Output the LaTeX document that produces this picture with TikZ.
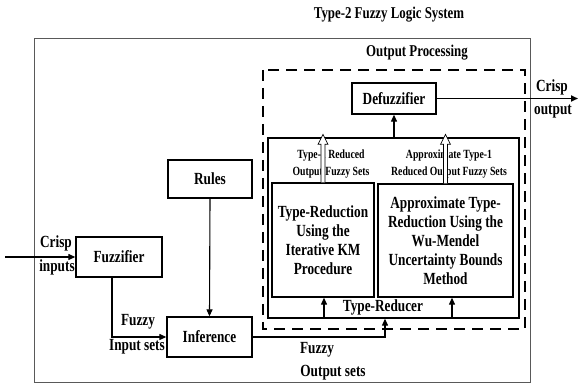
\documentclass[tikz,border=0pt]{standalone}
\usepackage{fontspec}
\setmainfont{Liberation Serif}
\newfontfamily\cf[FakeStretch=0.78]{Liberation Serif}
\usetikzlibrary{arrows.meta,calc}
\begin{document}
\begin{tikzpicture}[x=1pt,y=-1pt,
  box/.style={draw, line width=1.3pt, inner sep=0pt, align=center},
  big/.style={font=\cf\bfseries\fontsize{17}{19}\selectfont},
  lab/.style={font=\cf\bfseries\fontsize{17}{19}\selectfont, inner sep=0pt},
  ttl/.style={font=\cf\bfseries\fontsize{16.5}{19}\selectfont, inner sep=0pt},
  small/.style={font=\cf\bfseries\fontsize{12.5}{17}\selectfont, inner sep=0pt, align=center},
  arr/.style={line width=1.1pt, -{Triangle[length=7pt,width=6pt]}},
  hollow/.style={line width=0.7pt, fill=white},
  dashbox/.style={draw, line width=1.7pt, dash pattern=on 11pt off 7pt},
  outer/.style={draw=black!65, line width=0.6pt}]
\useasboundingbox (0,0) rectangle (579,387);

% outer frame and titles
\draw[outer] (34,38) rectangle (530,382);
\node[ttl] (title) at (389,15) {Type-2 Fuzzy Logic System};
\node[ttl] (optitle) at (417,53) {Output Processing};
\draw[dashbox] (263,70) rectangle (525,329);

% blocks
\node[box, big, minimum width=84pt, minimum height=31pt] (defuzz) at (394,98.5) {Defuzzifier};
\node[box, minimum width=251pt, minimum height=180pt] (tr) at (393.5,228) {};
\node[box, big, minimum width=102pt, minimum height=114pt] (lbox) at (323,240)
  {Type-Reduction\\Using the\\Iterative KM\\Procedure};
\node[box, big, minimum width=135pt, minimum height=113pt] (rbox) at (445.5,240.5)
  {Approximate Type-\\Reduction Using the\\Wu-Mendel\\Uncertainty Bounds\\Method};
\node[box, big, minimum width=84pt, minimum height=38pt] (rules) at (210,179) {Rules};
\node[box, big, minimum width=86pt, minimum height=40pt] (fuzz) at (119,257) {Fuzzifier};
\node[box, big, minimum width=85pt, minimum height=40pt] (inf) at (209.5,337) {Inference};

% labels
\node[lab] (trlab) at (383,307) {Type-Reducer};
\node[small] (l1) at (331,164) {Type-1 Reduced\\Output Fuzzy Sets};
\node[small] (l2) at (449,164) {Approximate Type-1\\Reduced Output Fuzzy Sets};
\node[lab] (cin1) at (56,243) {Crisp};
\node[lab] (cin2) at (57,267) {inputs};
\node[lab] (fin1) at (138,322) {Fuzzy};
\node[lab] (fin2) at (137,347) {Input sets};
\node[lab] (fout1) at (317,350) {Fuzzy};
\node[lab] (fout2) at (333,373) {Output sets};
\node[lab] (cout1) at (552,87) {Crisp};
\node[lab] (cout2) at (553,112) {output};

% connectors
\coordinate (inp) at (5,257);
\coordinate (outp) at (578,98.5);
\draw[arr] (inp) -- (fuzz.west);
\draw[arr] (fuzz.south -| 112,0) |- (inf.west);
\draw[arr] (rules.south) -- (inf.north);
\draw[arr] (inf.east) -| (tr.south -| 385,0);
\draw[arr] (tr.south -| 324,0) -- (lbox.south -| 324,0);
\draw[arr] (tr.south -| 452,0) -- (rbox.south -| 452,0);
\draw[arr] (tr.north -| defuzz.south) -- (defuzz.south);
\draw[arr, line width=1.6pt] (defuzz.east) -- (outp);

% hollow arrows
\draw[hollow] ($(lbox.north)+(-2,0)$) -- ($(lbox.north|-tr.north)+(-2,7)$) -- ++(-3,0)
  -- ($(lbox.north|-tr.north)+(0,-3)$) -- ($(lbox.north|-tr.north)+(5,7)$) -- ++(-3,0)
  -- ($(lbox.north)+(2,0)$);
\draw[hollow] ($(rbox.north)+(-2,0)$) -- ($(rbox.north|-tr.north)+(-2,7)$) -- ++(-3,0)
  -- ($(rbox.north|-tr.north)+(0,-3)$) -- ($(rbox.north|-tr.north)+(5,7)$) -- ++(-3,0)
  -- ($(rbox.north)+(2,0)$);
\end{tikzpicture}
\end{document}
